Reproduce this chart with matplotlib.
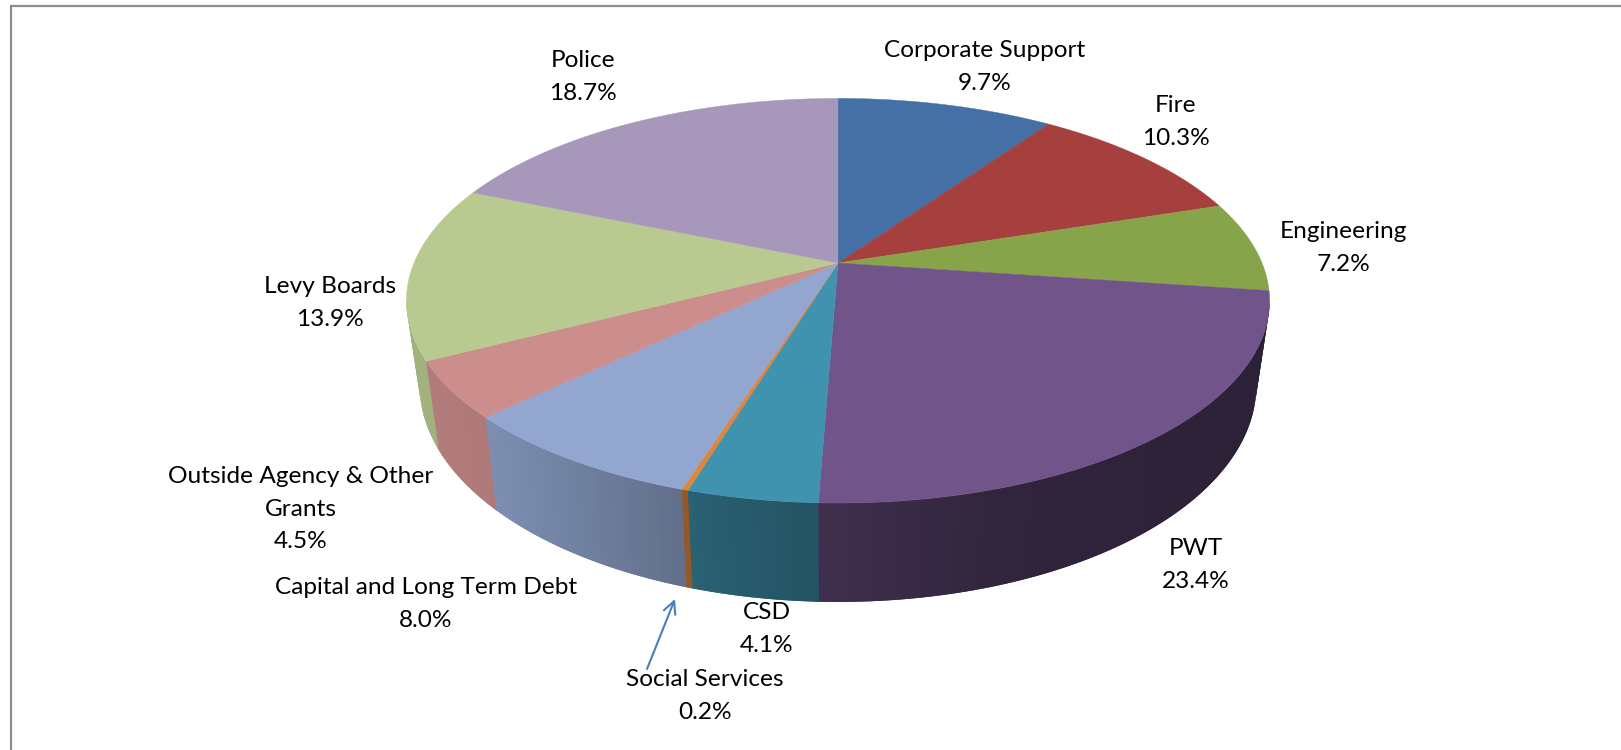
import numpy as np
import matplotlib
matplotlib.use("Agg")
import matplotlib.pyplot as plt
from matplotlib.patches import Polygon

plt.rcParams['font.family'] = ['Lato', 'DejaVu Sans']

labels = ["Corporate Support", "Fire", "Engineering", "PWT", "CSD", "Social Services",
          "Capital and Long Term Debt", "Outside Agency & Other\nGrants", "Levy Boards", "Police"]
values = [9.7, 10.3, 7.2, 23.4, 4.1, 0.2, 8.0, 4.5, 13.9, 18.7]
colors = ["#4470a6", "#a6403f", "#88a44a", "#70548a", "#3f93ae", "#e0853a",
          "#92a6cf", "#cc8e8c", "#b8ca90", "#a798bb"]
label_x = [985, 1176, 1343, 1196, 767, 705, 426, 301, 330, 583]
label_y = [67, 122, 248, 565, 629, 696, 604, 509, 303, 77]

# wall shading by horizontal position
shade_x = [420, 495, 680, 810, 1000, 1257]
shade_f = [0.88, 0.85, 0.67, 0.57, 0.44, 0.39]

W, H = 1621, 750
KX = 0.1865


def project(deg, cx, cy, a, b):
    # clockwise degrees from 12 o'clock, with foreshortening towards the back
    t = np.radians(deg)
    w = 1 + KX * np.cos(t)
    return cx + a * np.sin(t) / w, cy - b * np.cos(t) / w


def top_rim(deg):
    return project(deg, 838, 263, 424, 195.3)


def low_rim(deg):
    return project(deg, 838, 345, 411, 209)


fig = plt.figure(figsize=(W / 100, H / 100), dpi=100)
ax = fig.add_axes([0, 0, 1, 1])
ax.set_xlim(0, W)
ax.set_ylim(H, 0)
ax.axis("off")

# frame, open on the right and at the bottom
ax.plot([11, 11, W], [H, 6, 6], color="#8c8c8c", lw=1.6, solid_joinstyle="miter")

edges = np.concatenate([[0], np.cumsum(values)]) * 3.6
edges[-1] = 360
wall_start = 100.7
wall_end = 259.3

# side wall in strips, each one overlapping the next so no seams show
for i in range(len(values)):
    a0 = max(edges[i], wall_start)
    a1 = min(edges[i + 1], wall_end)
    if a1 <= a0:
        continue
    steps = np.append(np.arange(a0, a1, 1.0), a1)
    base = np.array(matplotlib.colors.to_rgb(colors[i]))
    for s0, s1 in zip(steps[:-1], steps[1:]):
        s2 = min(s1 + 1.0, wall_end)
        arc = np.linspace(s0, s2, 5)
        xt, yt = top_rim(arc)
        xl, yl = low_rim(arc)
        pts = list(zip(xt, yt)) + list(zip(xl[::-1], yl[::-1]))
        f = np.interp((top_rim(s0)[0] + top_rim(s1)[0]) / 2, shade_x, shade_f)
        ax.add_patch(Polygon(pts, closed=True, facecolor=base * f, edgecolor="none"))

# top face
for i in range(len(values)):
    a = np.linspace(edges[i], edges[i + 1], 80)
    x, y = top_rim(a)
    pts = [(838, 263)] + list(zip(x, y))
    ax.add_patch(Polygon(pts, closed=True, facecolor=colors[i], edgecolor=colors[i], lw=0.3))

for name, v, lx, ly in zip(labels, values, label_x, label_y):
    ax.text(lx, ly, f"{name}\n{v:.1f}%", ha="center", va="center", fontsize=17.6,
            color="black", linespacing=1.68)

# pointer for the thin slice
ax.annotate("", xy=(675, 599), xytext=(647, 669),
            arrowprops=dict(arrowstyle="->", color="#4a7ebb", lw=1.5, mutation_scale=22,
                            shrinkA=0, shrinkB=0))

fig.savefig("out.png", dpi=100)
